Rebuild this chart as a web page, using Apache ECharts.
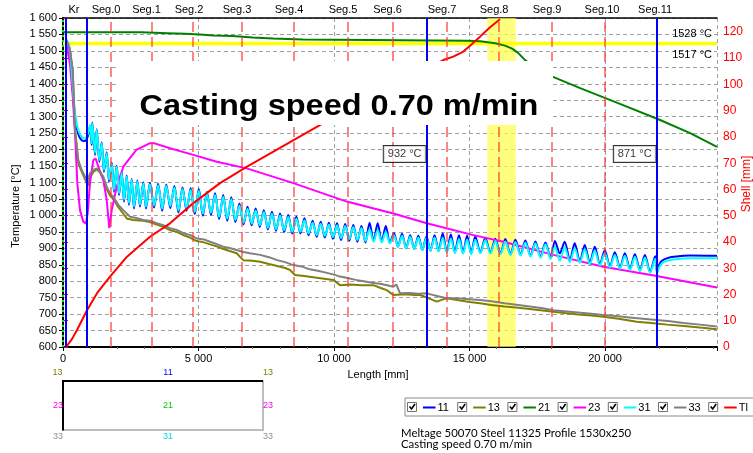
<!DOCTYPE html>
<html>
<head>
<meta charset="utf-8">
<script src="https://cdn.jsdelivr.net/npm/echarts@6/dist/echarts.min.js"></script>
<style>
  html, body { margin: 0; padding: 0; background: #fff; }
  #chart { width: 753px; height: 453px; }
</style>
</head>
<body>
<div id="chart"></div>
<script>
// ---------- strand geometry ----------
const lengthMax = 24130;
const segNames = ['Kr', 'Seg.0', 'Seg.1', 'Seg.2', 'Seg.3', 'Seg.4', 'Seg.5', 'Seg.6', 'Seg.7', 'Seg.8', 'Seg.9', 'Seg.10', 'Seg.11'];
const segLabelAt = [406, 1587, 3081, 4649, 6421, 8339, 10332, 11974, 13985, 15904, 17860, 19889, 21845];
const segBounds = [1771, 3284, 4797, 6605, 8524, 10517, 12177, 14170, 16089, 18044, 20000];
const cursorLines = [100, 886, 13432, 21919];
const liquidus = 1528;
const solidus = 1517;
const yellowZone = [15657, 16705];
const readoutLen = [13432, 21919];
const readoutTemp = [932, 871];
const readoutLevel = 1187;

// ---------- thermocouple traces 11 / 31 (shared sampling) ----------
const lenWave = [
  100, 200, 260, 320, 380, 440, 560, 690, 810, 930,
  996, 1059, 1081, 1181, 1243, 1341, 1427, 1512, 1611, 1697,
  1797, 1882, 1982, 2067, 2166, 2251, 2350, 2435, 2534, 2620,
  2743, 2841, 2964, 3063, 3210, 3360, 3510, 3660, 3810, 3960,
  4110, 4260, 4410, 4560, 4710, 4860, 5010, 5160, 5310, 5460,
  5610, 5760, 5910, 6060, 6210, 6360, 6510, 6660, 6810, 6960,
  7110, 7260, 7410, 7560, 7710, 7860, 8010, 8160, 8310, 8460,
  8610, 8760, 8910, 9060, 9210, 9360, 9510, 9660, 9810, 9960,
  10110, 10260, 10410, 10560, 10710, 10860, 11010, 11160, 11310, 11460,
  11610, 11760, 11910, 12060, 12210, 12360, 12510, 12660, 12810, 12960,
  13110, 13260, 13410, 13560, 13710, 13860, 14010, 14160, 14310, 14460,
  14610, 14760, 14910, 15060, 15210, 15400, 15580, 15770, 15950, 16140,
  16320, 16510, 16690, 16880, 17060, 17250, 17430, 17620, 17800, 17990,
  18150, 18330, 18510, 18700, 18880, 19070, 19250, 19440, 19620, 19810,
  19990, 20180, 20360, 20550, 20730, 20920, 21100, 21290, 21470, 21660,
  21850, 21920, 22000, 22100, 22300, 22530, 23140, 24130
];
const t31 = [
  1535, 1522, 1500, 1440, 1370, 1311, 1260, 1239, 1234, 1250,
  1275, 1219, 1280, 1189, 1260, 1168, 1219, 1138, 1189, 1108,
  1158, 1077, 1148, 1067, 1128, 1047, 1118, 1037, 1108, 1026,
  1103, 1032, 1098, 1026, 1095, 1030, 1092, 1020, 1090, 1028,
  1085, 1015, 1080, 1020, 1078, 1010, 1075, 1005, 1066, 1008,
  1062, 995, 1057, 990, 1050, 986, 1030, 978, 1020, 975,
  1015, 970, 1010, 962, 1005, 958, 1000, 955, 995, 950,
  990, 950, 985, 945, 978, 940, 975, 938, 972, 934,
  970, 930, 968, 928, 965, 925, 962, 922, 958, 920,
  956, 918, 950, 915, 940, 905, 938, 900, 935, 898,
  933, 895, 931, 893, 933, 890, 932, 888, 930, 885,
  928, 884, 927, 882, 926, 885, 925, 884, 922, 882,
  921, 880, 919, 878, 918, 875, 915, 872, 912, 868,
  905, 862, 904, 858, 900, 856, 897, 852, 893, 848,
  885, 842, 880, 838, 877, 834, 874, 830, 872, 826,
  868, 824, 842, 855, 862, 866, 870, 870
];
const t11 = [
  1535, 1520, 1497, 1435, 1362, 1300, 1248, 1228, 1226, 1244,
  1270, 1214, 1282, 1184, 1262, 1163, 1222, 1133, 1192, 1103,
  1161, 1072, 1151, 1062, 1131, 1042, 1121, 1032, 1111, 1021,
  1106, 1027, 1101, 1021, 1099, 1024, 1096, 1014, 1094, 1022,
  1089, 1009, 1085, 1014, 1083, 1004, 1080, 999, 1071, 1002,
  1067, 989, 1062, 984, 1055, 980, 1036, 973, 1026, 970,
  1021, 965, 1016, 957, 1011, 953, 1006, 950, 1001, 945,
  996, 945, 991, 940, 984, 935, 981, 933, 978, 929,
  976, 925, 974, 923, 971, 920, 968, 918, 978, 922,
  976, 920, 968, 917, 946, 905, 944, 900, 940, 898,
  938, 895, 936, 893, 940, 892, 945, 890, 942, 888,
  940, 886, 938, 884, 936, 887, 932, 886, 929, 884,
  928, 882, 926, 880, 924, 877, 921, 874, 918, 870,
  922, 885, 920, 864, 915, 860, 910, 856, 905, 852,
  894, 845, 888, 841, 885, 837, 882, 833, 880, 829,
  876, 826, 850, 862, 870, 874, 878, 877
];

// ---------- corner traces 13 / 33 ----------
const len13 = [
  111, 258, 358, 406, 443, 506, 565, 690, 812, 934,
  996, 1118, 1244, 1365, 1487, 1613, 1734, 1856, 2041, 2225,
  2362, 2472, 2583, 2963, 3200, 3458, 3700, 3948, 4200, 4439,
  4700, 4934, 5200, 5424, 5700, 5915, 6150, 6410, 6531, 6653,
  7000, 7269, 7600, 7900, 8200, 8376, 8561, 8900, 9300, 9700,
  9974, 10221, 10600, 11000, 11451, 11700, 11943, 12188, 12600, 13000,
  13173, 13500, 13789, 14000, 14158, 14600, 15000, 15387, 15800, 16300,
  16800, 17300, 17700, 18092, 18500, 19000, 19500, 19937, 20500, 21169,
  21700, 22300, 22900, 23500, 24121
];
const t13 = [
  1535, 1500, 1440, 1340, 1262, 1212, 1158, 1133, 1110, 1090,
  1115, 1132, 1140, 1130, 1112, 1080, 1060, 1050, 1025, 1005,
  990, 988, 986, 984, 980, 972, 965, 955, 950, 940,
  932, 922, 918, 912, 905, 898, 892, 885, 874, 864,
  862, 859, 852, 846, 840, 834, 819, 816, 811, 807,
  804, 788, 790, 788, 788, 780, 773, 758, 760, 758,
  758, 748, 738, 744, 748, 742, 737, 733, 728, 723,
  719, 715, 711, 707, 703, 699, 696, 692, 686, 677,
  673, 668, 664, 659, 654
];
const len33 = [
  111, 258, 358, 406, 443, 506, 565, 690, 812, 875,
  922, 996, 1118, 1244, 1365, 1487, 1613, 1734, 1856, 2041,
  2225, 2472, 2700, 2963, 3200, 3458, 3700, 3948, 4200, 4439,
  4700, 4934, 5200, 5424, 5700, 5915, 6150, 6410, 6650, 6900,
  7269, 7600, 7900, 8200, 8498, 8800, 9100, 9400, 9700, 10000,
  10221, 10500, 10800, 11100, 11400, 11700, 12000, 12188, 12300, 12435,
  12800, 13100, 13421, 13700, 13911, 14158, 14500, 14900, 15387, 15800,
  16300, 16800, 17300, 17700, 18092, 18500, 19000, 19500, 19937, 20400,
  20900, 21400, 21907, 22400, 22900, 23500, 24121
];
const t33 = [
  1535, 1503, 1442, 1342, 1260, 1209, 1168, 1138, 1118, 1098,
  1095, 1128, 1138, 1143, 1133, 1118, 1087, 1067, 1057, 1032,
  1016, 996, 992, 986, 984, 976, 970, 961, 956, 946,
  940, 930, 927, 920, 912, 905, 901, 895, 889, 885,
  880, 873, 864, 858, 849, 845, 836, 832, 826, 820,
  814, 810, 804, 800, 795, 792, 787, 783, 790, 763,
  764, 762, 763, 757, 753, 748, 748, 746, 743, 739,
  733, 728, 722, 718, 712, 709, 705, 701, 697, 694,
  690, 686, 682, 678, 673, 668, 662
];

// ---------- centre / narrow face traces 21 / 23 ----------
const len21 = [
  0, 2900, 2900, 3850, 3850, 4500, 4500, 5050, 5050, 5550,
  5550, 6250, 6250, 7000, 7000, 7750, 7750, 8850, 8850, 14900,
  15400, 15950, 16310, 16570, 16790, 17050, 17420, 18080, 19080, 20550,
  22030, 23140, 24130
];
const t21 = [
  1557, 1557, 1554, 1554, 1552, 1552, 1550, 1550, 1547, 1547,
  1545, 1545, 1541, 1541, 1538, 1538, 1535, 1535, 1531, 1531,
  1529, 1523, 1516, 1507, 1494, 1472, 1448, 1421, 1387, 1339,
  1290, 1250, 1208
];
const len23 = [
  111, 258, 360, 443, 528, 627, 749, 849, 910, 996,
  1118, 1206, 1303, 1487, 1611, 1708, 1797, 1982, 2225, 2706,
  3195, 3380, 3948, 4808, 5672, 6779, 8498, 10469, 12188, 13421,
  15141, 16248, 18093, 19938, 21908, 24130
];
const t23 = [
  1530, 1460, 1360, 1250, 1098, 1016, 981, 975, 1006, 1098,
  1168, 1173, 1148, 1108, 1047, 961, 1016, 1087, 1148, 1199,
  1219, 1219, 1204, 1184, 1163, 1143, 1098, 1042, 1006, 976,
  940, 920, 880, 844, 816, 781
];

// ---------- shell thickness Tl [mm] ----------
const lenTl = [
  111, 330, 517, 886, 1255, 1734, 2362, 3210, 3948, 4797,
  5793, 6790, 8007, 9557, 14033, 14402, 14771, 15018, 15387, 15756,
  16125
];
const shellTl = [
  0, 3, 6.5, 14, 20.5, 26.8, 34.4, 42, 47.1, 54.7,
  62.4, 68.7, 75.8, 85, 109.3, 110.6, 112.5, 114.7, 118.2, 121.8,
  124.8
];

const legendNames = ['11', '13', '21', '23', '31', '33', 'Tl'];
const infoLines = ['Meltage 50070 Steel 11325 Profile 1530x250', 'Casting speed 0.70 m/min'];

// ---------- build ----------
const colors = {
  '11': '#0000ff', '13': '#808000', '21': '#008000', '23': '#ff00ff',
  '31': '#00ffff', '33': '#808080', 'Tl': '#ff0000'
};
const zip = (xs, ys) => xs.map((x, i) => [x, ys[i]]);
const thousands = v => String(v).replace(/\B(?=(\d{3})+(?!\d))/g, ' ');
const FONT = 'Liberation Sans, Arial, sans-serif';

function lineSeries(name, xs, ys, extra) {
  return Object.assign({
    name, type: 'line', data: zip(xs, ys), showSymbol: false, symbol: 'none',
    lineStyle: { color: colors[name], width: 2 }, itemStyle: { color: colors[name] },
    z: 3, animation: false
  }, extra || {});
}

const chart = echarts.init(document.getElementById('chart'), null, { renderer: 'canvas' });

// legend row (checkbox, swatch, caption)
const legendChildren = [{
  type: 'rect', shape: { x: 405, y: 398, width: 352, height: 18 },
  style: { fill: '#fff', stroke: '#8a8a8a', lineWidth: 1 }
}];
legendNames.forEach((n, i) => {
  const bx = 407.5 + i * 50.2;
  legendChildren.push(
    { type: 'rect', shape: { x: bx, y: 402.5, width: 9, height: 9 }, style: { fill: '#fff', stroke: '#707070', lineWidth: 1 } },
    { type: 'polyline', shape: { points: [[bx + 2, 406.5], [bx + 4, 409], [bx + 7.5, 404]] }, style: { stroke: '#000', lineWidth: 1.6, fill: null } },
    { type: 'line', shape: { x1: bx + 15.5, y1: 407.5, x2: bx + 28, y2: 407.5 }, style: { stroke: colors[n], lineWidth: 2 } },
    { type: 'text', x: bx + 30, y: 407.5, style: { text: n, font: '11px ' + FONT, fill: '#000', textVerticalAlign: 'middle', textAlign: 'left' } }
  );
});

// cross-section sketch with sensor positions
const sketchLabels = [
  ['13', 57.5, 373], ['11', 168, 373], ['13', 268, 373],
  ['23', 58, 406], ['21', 168, 406], ['23', 268, 406],
  ['33', 58, 437], ['31', 168, 437], ['33', 268, 437]
];
const sketchChildren = [
  { type: 'rect', shape: { x: 63, y: 381, width: 200, height: 49 }, style: { fill: '#fff', stroke: '#a8a8a8', lineWidth: 1.5 } },
  { type: 'polyline', shape: { points: [[63, 430.5], [63, 381], [263, 381]] }, style: { stroke: '#000', lineWidth: 2, fill: null } }
];
const sketchColor = { '11': '#0000ff', '13': '#808000', '21': '#00cc00', '23': '#ff00ff', '31': '#00d8e8', '33': '#909090' };
sketchLabels.forEach(([t, x, y]) => sketchChildren.push({
  type: 'text', x, y, style: { text: t, font: '9px ' + FONT, fill: sketchColor[t], textAlign: 'center', textVerticalAlign: 'middle' }
}));

const option = {
  animation: false,
  backgroundColor: '#fff',
  grid: { left: 63, right: 36, top: 18, bottom: 106, containLabel: false },
  xAxis: [
    {
      type: 'value', min: 0, max: lengthMax, interval: 5000,
      axisLine: { show: true, lineStyle: { color: '#000', width: 2 } },
      axisTick: { show: true, length: 4, lineStyle: { color: '#000' } },
      minorTick: { show: true, splitNumber: 5, length: 2, lineStyle: { color: '#666' } },
      axisLabel: { color: '#000', fontSize: 11, fontFamily: FONT, margin: 6,
        formatter: v => (v % 5000 === 0 ? thousands(v) : '') },
      splitLine: { show: true, lineStyle: { color: '#a0a0a0', type: [4, 3], width: 1 } }
    },
    {
      type: 'value', position: 'top', min: 0, max: lengthMax,
      axisLine: { show: true, lineStyle: { color: '#000', width: 1.5 } },
      axisTick: { show: false },
      axisLabel: { show: true, color: '#000', fontSize: 11, fontFamily: FONT, margin: 3,
        customValues: segLabelAt,
        formatter: v => segNames[segLabelAt.indexOf(v)] || '' },
      splitLine: { show: false }
    }
  ],
  yAxis: [
    {
      type: 'value', min: 600, max: 1600, interval: 50,
      axisLine: { show: true, lineStyle: { color: '#000', width: 2 } },
      axisTick: { show: true, length: 4, lineStyle: { color: '#000' } },
      axisLabel: { color: '#000', fontSize: 11, fontFamily: FONT, margin: 6, formatter: v => thousands(v) },
      splitLine: { show: true, lineStyle: { color: '#a0a0a0', type: [4, 3], width: 1 } }
    },
    {
      type: 'value', position: 'right', min: 0, max: 125.3, interval: 10,
      axisLine: { show: true, lineStyle: { color: '#000', width: 2 } },
      axisTick: { show: true, length: 5, lineStyle: { color: '#ff0000' } },
      axisLabel: { color: '#ff0000', fontSize: 12, fontFamily: FONT, margin: 6,
        formatter: v => (v % 10 === 0 ? String(v) : '') },
      splitLine: { show: false }
    }
  ],
  series: [
    // background zones and segment boundaries
    {
      name: 'zones', type: 'line', data: [], z: 1, silent: true,
      markArea: {
        silent: true,
        data: [
          [{ xAxis: yellowZone[0], itemStyle: { color: 'rgba(255,255,70,0.7)' } }, { xAxis: yellowZone[1] }],
          [{ yAxis: solidus, itemStyle: { color: '#ffff00' } }, { yAxis: liquidus }]
        ]
      },
      markLine: {
        silent: true, symbol: 'none',
        lineStyle: { color: 'rgba(255,50,50,0.8)', type: [10, 5], width: 1.5 },
        label: { show: false },
        data: segBounds.map(v => ({ xAxis: v }))
      }
    },
    {
      name: 'levels', type: 'line', data: [], z: 2, silent: true,
      markLine: {
        silent: true, symbol: 'none',
        lineStyle: { color: 'rgba(0,0,0,0)', width: 0 },
        data: [
          { yAxis: liquidus, label: { show: true, position: 'insideEndTop', distance: [5, 2], formatter: liquidus + ' °C', color: '#000', fontSize: 11, fontFamily: FONT } },
          { yAxis: solidus, label: { show: true, position: 'insideEndBottom', distance: [5, 4], formatter: solidus + ' °C', color: '#000', fontSize: 11, fontFamily: FONT } }
        ]
      }
    },
    lineSeries('11', lenWave, t11, { smooth: 0.3 }),
    lineSeries('13', len13, t13),
    lineSeries('21', len21, t21),
    lineSeries('23', len23, t23),
    lineSeries('31', lenWave, t31, { smooth: 0.3 }),
    lineSeries('33', len33, t33),
    lineSeries('Tl', lenTl, shellTl, { yAxisIndex: 1, z: 4 }),
    {
      name: 'cursors', type: 'line', data: [], z: 6, silent: true,
      markLine: {
        silent: true, symbol: 'none',
        lineStyle: { color: '#0000ff', type: 'solid', width: 2 },
        label: { show: false },
        data: cursorLines.map(v => ({ xAxis: v }))
      }
    },
    {
      name: 'axisDots', type: 'line', data: [], z: 7, silent: true,
      markLine: {
        silent: true, symbol: 'none',
        lineStyle: { color: '#00ee00', type: [2, 3], width: 2 },
        label: { show: false },
        data: [{ xAxis: 0 }]
      }
    },
    {
      name: 'readouts', type: 'scatter', z: 8, silent: true,
      data: zip(readoutLen, readoutLen.map(() => readoutLevel)),
      symbolSize: 1, itemStyle: { color: 'rgba(0,0,0,0)' },
      label: {
        show: true, position: 'left', distance: 1,
        formatter: p => readoutTemp[p.dataIndex] + ' °C',
        color: '#000', fontSize: 11, fontFamily: FONT,
        backgroundColor: '#fff', borderColor: '#000', borderWidth: 1,
        padding: [3, 4, 2, 4]
      }
    }
  ],
  graphic: [
    { type: 'rect', z: 100, shape: { x: 117, y: 61, width: 436, height: 64 }, style: { fill: '#fff' } },
    { type: 'text', z: 101, x: 339, y: 107, scaleX: 1.12,
      style: { text: 'Casting speed 0.70 m/min', font: 'bold 29px ' + FONT, fill: '#000', textAlign: 'center', textVerticalAlign: 'middle' } },
    { type: 'text', x: 16, y: 206, rotation: Math.PI / 2,
      style: { text: 'Temperature [°C]', font: '11px ' + FONT, fill: '#000', textAlign: 'center', textVerticalAlign: 'middle' } },
    { type: 'text', x: 747, y: 184, rotation: Math.PI / 2,
      style: { text: 'Shell [mm]', font: '12px ' + FONT, fill: '#ff0000', textAlign: 'center', textVerticalAlign: 'middle' } },
    { type: 'text', x: 378, y: 375,
      style: { text: 'Length [mm]', font: '11px ' + FONT, fill: '#000', textAlign: 'center', textVerticalAlign: 'middle' } },
    { type: 'group', children: legendChildren },
    { type: 'group', children: sketchChildren },
    { type: 'text', x: 401, y: 433, style: { text: infoLines[0], font: '11.4px Lato, sans-serif', fill: '#000', textVerticalAlign: 'middle' } },
    { type: 'text', x: 401, y: 444.5, style: { text: infoLines[1], font: '11.4px Lato, sans-serif', fill: '#000', textVerticalAlign: 'middle' } }
  ]
};
chart.setOption(option);
</script>
</body>
</html>
